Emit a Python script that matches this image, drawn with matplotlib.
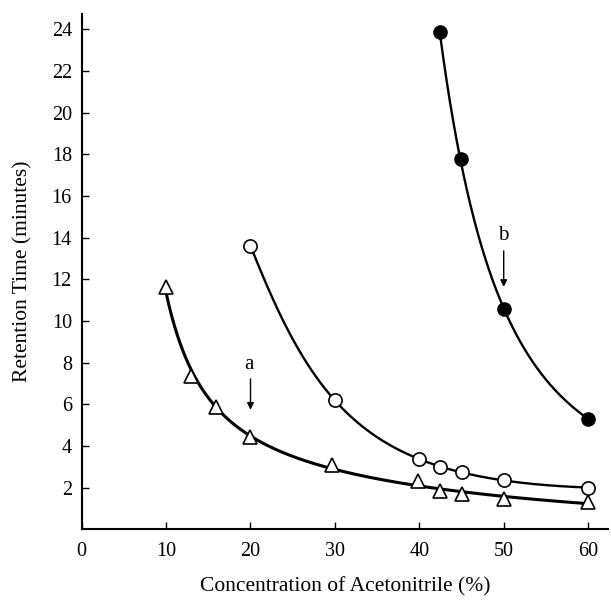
import numpy as np
import matplotlib
matplotlib.use("Agg")
import matplotlib.pyplot as plt

plt.rcParams['font.family'] = ['Liberation Serif', 'DejaVu Serif']

# Data
tri_x = [10, 12.9, 15.9, 20, 29.6, 39.8, 42.5, 45, 50, 60]
tri_y = [11.65, 7.36, 5.89, 4.45, 3.06, 2.29, 1.84, 1.70, 1.46, 1.30]

open_x = [20, 30, 40, 42.5, 45, 50, 60]
open_y = [13.6, 6.18, 3.38, 2.98, 2.74, 2.34, 2.0]

fill_x = [42.4, 44.9, 50, 60]
fill_y = [23.87, 17.78, 10.58, 5.3]

xticks = [0, 10, 20, 30, 40, 50, 60]
yticks = [2, 4, 6, 8, 10, 12, 14, 16, 18, 20, 22, 24]

fig = plt.figure(figsize=(6.11, 6.02), dpi=100)
ax = fig.add_axes([0.1337, 0.121, 0.862, 0.856])


def smooth(xs, ys, deg):
    lx, ly = np.log(xs), np.log(ys)
    c = np.polyfit(lx, ly, deg)
    xx = np.linspace(min(xs), max(xs), 300)
    return xx, np.exp(np.polyval(c, np.log(xx)))


for xs, ys, deg, lw in [(tri_x, tri_y, 3, 2.2), (open_x, open_y, 3, 1.7), (fill_x, fill_y, 2, 1.7)]:
    cx, cy = smooth(xs, ys, deg)
    ax.plot(cx, cy, color='black', lw=lw, zorder=2)

ax.plot(tri_x, tri_y, linestyle='none', marker='^', ms=10, mfc='white', mec='black', mew=1.2, zorder=3)
ax.plot(open_x, open_y, linestyle='none', marker='o', ms=9.5, mfc='white', mec='black', mew=1.2, zorder=3)
ax.plot(fill_x, fill_y, linestyle='none', marker='o', ms=9.5, mfc='black', mec='black', zorder=3)

# annotations
ax.annotate('', xy=(20, 5.6), xytext=(20, 7.35),
            arrowprops=dict(arrowstyle='-|>', color='black', lw=1, mutation_scale=10))
ax.text(19.8, 7.9, 'a', ha='center', va='center', fontsize=15)
ax.annotate('', xy=(50, 11.5), xytext=(50, 13.5),
            arrowprops=dict(arrowstyle='-|>', color='black', lw=1, mutation_scale=10))
ax.text(49.9, 14.1, 'b', ha='center', va='center', fontsize=15)

ax.set_xlim(0, 62.4)
ax.set_ylim(0, 24.75)
ax.set_xticks(xticks)
ax.set_yticks(yticks)
ax.tick_params(direction='in', length=5, width=1, labelsize=14.5)
ax.tick_params(axis='x', pad=9)
ax.tick_params(axis='y', pad=7)
for s in ['top', 'right']:
    ax.spines[s].set_visible(False)
for s in ['left', 'bottom']:
    ax.spines[s].set_linewidth(1.5)

ax.set_xlabel('Concentration of Acetonitrile (%)', fontsize=15.5, labelpad=12)
ax.set_ylabel('Retention Time (minutes)', fontsize=15.5, labelpad=14)

fig.savefig('out.png', dpi=100)
